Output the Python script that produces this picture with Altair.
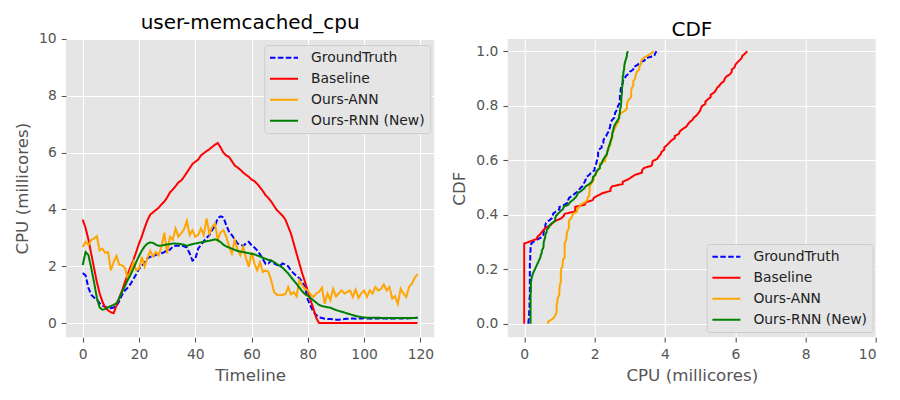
import altair as alt
import pandas as pd

timeline = list(range(120))

ground_truth = [
    1.76, 1.68, 1.25, 1.0, 0.9, 0.82, 0.7, 0.62, 0.57, 0.55,
    0.52, 0.55, 0.6, 0.78, 1.0, 1.15, 1.25, 1.38, 1.55, 1.72,
    1.9, 2.02, 2.12, 2.28, 2.33, 2.36, 2.4, 2.44, 2.46, 2.5,
    2.58, 2.58, 2.7, 2.72, 2.72, 2.74, 2.7, 2.66, 2.45, 2.2,
    2.25, 2.62, 2.75, 2.88, 3.0, 3.1, 3.28, 3.42, 3.7, 3.76,
    3.72, 3.45, 3.22, 3.1, 2.95, 2.8, 2.76, 2.72, 2.8, 2.86,
    2.74, 2.66, 2.56, 2.42, 2.25, 2.08, 2.1, 2.2, 2.1, 2.05,
    2.0, 2.1, 2.06, 2.0, 1.85, 1.75, 1.65, 1.58, 1.45, 1.28,
    0.82, 0.6, 0.4, 0.28, 0.2, 0.18, 0.15, 0.14, 0.14, 0.13,
    0.12, 0.12, 0.13, 0.14, 0.15, 0.16, 0.16, 0.15, 0.16, 0.16,
    0.17, 0.16, 0.16, 0.15, 0.16, 0.16, 0.17, 0.16, 0.16, 0.15,
    0.16, 0.16, 0.17, 0.16, 0.16, 0.16, 0.17, 0.17, 0.18, 0.2,
]

baseline = [
    3.64, 3.35, 2.95, 2.45, 1.95, 1.45, 1.05, 0.75, 0.55, 0.45,
    0.38, 0.35, 0.62, 0.9, 1.15, 1.45, 1.72, 1.98, 2.22, 2.5,
    2.8, 3.05, 3.35, 3.62, 3.82, 3.9, 3.98, 4.06, 4.18, 4.28,
    4.42, 4.6, 4.7, 4.82, 4.95, 5.02, 5.15, 5.3, 5.45, 5.6,
    5.68, 5.75, 5.9, 5.98, 6.05, 6.12, 6.2, 6.28, 6.34, 6.18,
    6.0, 5.9, 5.85, 5.7, 5.55, 5.48, 5.4, 5.3, 5.22, 5.15,
    5.05, 5.0, 4.9, 4.78, 4.65, 4.5, 4.4, 4.28, 4.12, 3.98,
    3.88, 3.78, 3.65, 3.4, 3.15, 2.8, 2.45, 2.1, 1.75, 1.45,
    1.12, 0.8, 0.5, 0.18, 0.0, 0.0, 0.0, 0.0, 0.0, 0.0,
    0.0, 0.0, 0.0, 0.0, 0.0, 0.0, 0.0, 0.0, 0.0, 0.0,
    0.0, 0.0, 0.0, 0.0, 0.0, 0.0, 0.0, 0.0, 0.0, 0.0,
    0.0, 0.0, 0.0, 0.0, 0.0, 0.0, 0.0, 0.0, 0.0, 0.0,
]

ours_ann = [
    2.68, 2.86, 2.75, 2.92, 2.98, 3.06, 2.56, 2.62, 2.47, 2.5,
    1.86, 2.15, 2.36, 2.05, 2.03, 1.95, 1.56, 1.85, 2.15, 1.86,
    1.9, 2.33, 1.98, 2.3, 2.54, 2.35, 2.5, 2.39, 2.7, 3.18,
    2.45, 3.04, 2.94, 3.33, 3.04, 3.16, 3.3, 3.6, 3.1, 3.27,
    3.04, 3.1, 3.33, 3.1, 3.68, 3.15, 3.39, 3.5, 2.92, 3.2,
    3.27, 3.04, 2.7, 2.45, 2.92, 2.6, 2.39, 2.68, 2.3, 1.98,
    2.5, 2.1, 1.86, 2.15, 1.8, 1.85, 1.8, 1.5, 1.09, 1.0,
    0.98, 1.0, 1.01, 1.27, 1.01, 1.09, 0.94, 1.5, 1.33, 1.2,
    1.15, 1.0, 0.92, 1.04, 1.1, 1.25, 0.68, 1.04, 0.8, 1.21,
    0.94, 1.05, 1.15, 1.04, 1.1, 1.15, 0.92, 1.18, 0.89, 1.05,
    1.15, 0.92, 1.15, 1.04, 1.27, 1.15, 1.2, 1.36, 1.15, 1.27,
    0.86, 0.95, 0.68, 1.21, 1.04, 0.92, 1.27, 1.39, 1.6, 1.72,
]

ours_rnn = [
    2.04, 2.5, 2.4, 1.95, 1.45, 0.9, 0.55, 0.47, 0.5, 0.55,
    0.6, 0.64, 0.7, 0.88, 1.1, 1.3, 1.52, 1.7, 1.92, 2.15,
    2.36, 2.55, 2.7, 2.8, 2.84, 2.82, 2.76, 2.72, 2.73, 2.75,
    2.77, 2.78, 2.8, 2.8, 2.79, 2.78, 2.76, 2.72, 2.75, 2.78,
    2.8, 2.82, 2.84, 2.86, 2.88, 2.9, 2.92, 2.95, 2.92, 2.85,
    2.76, 2.7, 2.66, 2.62, 2.58, 2.54, 2.52, 2.5, 2.48, 2.46,
    2.44, 2.42, 2.38, 2.35, 2.3, 2.26, 2.22, 2.2, 2.15, 2.08,
    2.02, 1.95, 1.85, 1.75, 1.62, 1.5, 1.38, 1.25, 1.12, 1.02,
    0.96, 0.88, 0.8, 0.72, 0.64, 0.6, 0.58, 0.56, 0.54, 0.5,
    0.46, 0.43, 0.4, 0.37, 0.34, 0.31, 0.28, 0.25, 0.23, 0.21,
    0.2, 0.19, 0.19, 0.19, 0.19, 0.19, 0.18, 0.18, 0.18, 0.18,
    0.18, 0.18, 0.18, 0.18, 0.18, 0.18, 0.18, 0.18, 0.18, 0.18,
]

series_names = ["GroundTruth", "Baseline", "Ours-ANN", "Ours-RNN (New)"]
series_colors = ["blue", "red", "orange", "green"]
series_dashes = [[5.5, 2.4], [1, 0], [1, 0], [1, 0]]

x_ticks_time = [0, 20, 40, 60, 80, 100, 120]
y_ticks_cpu = [0, 2, 4, 6, 8, 10]
x_ticks_cdf = [0, 2, 4, 6, 8, 10]
y_ticks_cdf = [0.0, 0.2, 0.4, 0.6, 0.8, 1.0]

frames = []
for name, values in zip(series_names, [ground_truth, baseline, ours_ann, ours_rnn]):
    frames.append(pd.DataFrame({"t": timeline, "value": values, "series": name}))
df = pd.concat(frames, ignore_index=True)

PLOT_W = 368.3
PLOT_H = 298.3


def series_legend(x, y):
    return alt.Legend(
        title=None,
        orient="none",
        legendX=x,
        legendY=y,
        fillColor="#E5E5E5",
        strokeColor="#CCCCCC",
        cornerRadius=3,
        padding=4.7,
        symbolType="M-1,0H3",
        symbolSize=196,
        symbolStrokeWidth=2,
        labelOffset=26,
        labelFontSize=13.9,
        labelColor="#222222",
        labelLimit=300,
        rowPadding=6,
    )


def series_encoding(x, y):
    return dict(
        color=alt.Color(
            "series:N",
            scale=alt.Scale(domain=series_names, range=series_colors),
            legend=series_legend(x, y),
        ),
        strokeDash=alt.StrokeDash(
            "series:N",
            scale=alt.Scale(domain=series_names, range=series_dashes),
            legend=series_legend(x, y),
        ),
    )


def panel_title(text):
    return alt.TitleParams(
        text, fontSize=20, fontWeight="normal", color="black",
        offset=-17, baseline="alphabetic", frame="group",
    )


timeline_chart = (
    alt.Chart(df, title=panel_title("user-memcached_cpu"))
    .mark_line(strokeWidth=2)
    .encode(
        x=alt.X(
            "t:Q",
            title="Timeline",
            scale=alt.Scale(domain=[-5.95, 124.95], nice=False, zero=False),
            axis=alt.Axis(values=x_ticks_time),
        ),
        y=alt.Y(
            "value:Q",
            title="CPU (millicores)",
            scale=alt.Scale(domain=[-0.5, 10], nice=False),
            axis=alt.Axis(values=y_ticks_cpu),
        ),
        order="t:Q",
        **series_encoding(198.3, 6),
    )
    .properties(width=PLOT_W, height=PLOT_H)
)

cdf_chart = (
    alt.Chart(df, title=panel_title("CDF"))
    .transform_window(
        rn="row_number()",
        groupby=["series"],
        sort=[alt.SortField("value", order="ascending")],
    )
    .transform_calculate(cdf="(datum.rn - 1) / 119")
    .mark_line(strokeWidth=2)
    .encode(
        x=alt.X(
            "value:Q",
            title="CPU (millicores)",
            scale=alt.Scale(domain=[-0.47, 10], nice=False, zero=False),
            axis=alt.Axis(values=x_ticks_cdf),
        ),
        y=alt.Y(
            "cdf:Q",
            title="CDF",
            scale=alt.Scale(domain=[-0.05, 1.045], nice=False, zero=False),
            axis=alt.Axis(values=y_ticks_cdf, format=".1f"),
        ),
        order="rn:Q",
        **series_encoding(199, 205),
    )
    .properties(width=PLOT_W, height=PLOT_H)
)

chart = (
    alt.hconcat(timeline_chart, cdf_chart, spacing=72.7, bounds="flush")
    .resolve_scale(color="independent", strokeDash="independent")
    .resolve_legend(color="independent", strokeDash="independent")
    .properties(padding={"left": 6, "top": 5, "right": 0, "bottom": 0})
    .configure(font="DejaVu Sans")
    .configure_view(fill="#E5E5E5", strokeWidth=0)
    .configure_axis(
        domain=False,
        grid=True,
        gridColor="#FFFFFF",
        gridWidth=1.1,
        tickColor="#555555",
        tickSize=4.8,
        tickWidth=1.1,
        labelColor="#555555",
        labelFontSize=13.9,
        labelPadding=5,
        titleColor="#555555",
        titleFontSize=16.7,
        titleFontWeight="normal",
        titlePadding=7,
    )
)

chart.save("out.html", embed_options={"renderer": "svg", "actions": False})
